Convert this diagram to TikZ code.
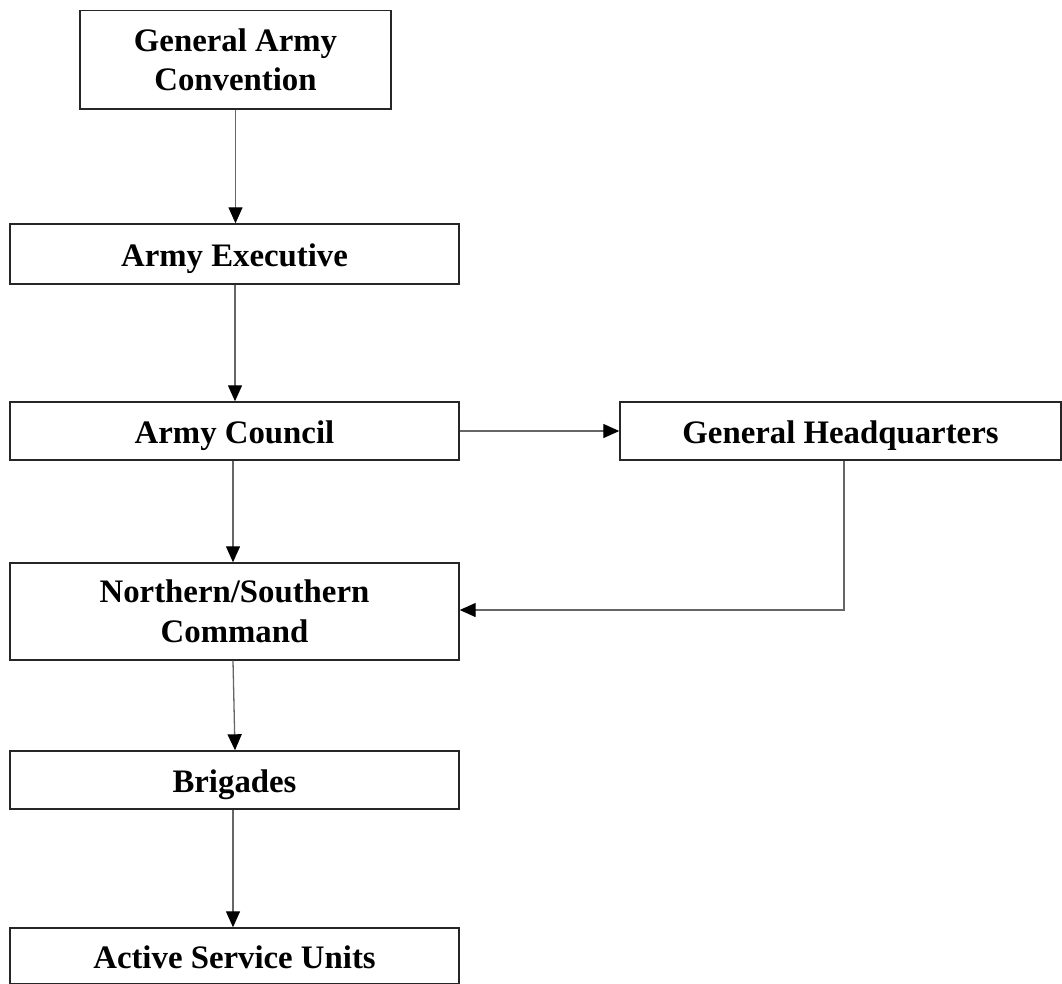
\documentclass[tikz,border=0pt]{standalone}
\usepackage{fontspec}
\setmainfont{Liberation Serif}
\usetikzlibrary{arrows.meta}
\begin{document}
\begin{tikzpicture}[x=1pt,y=-1pt,
  box/.style={draw=black!85,line width=1.4pt,inner sep=0pt,align=center,
    font=\fontsize{32.8}{39.5}\selectfont\bfseries},
  oneline/.style={box,text height=24.5pt,text depth=0pt},
  conn/.style={draw=black!60,line width=1.3pt,-{Triangle[length=16pt,width=14pt,black]}}]
\useasboundingbox (0,0) rectangle (1062,983);
\clip (0,0) rectangle (1062,983);
\node[box,minimum width=311pt,minimum height=98.5pt] (gac) at (235.5,59.75) {General Army\\Convention};
\node[oneline,minimum width=449pt,minimum height=60pt] (ae) at (234.5,254) {Army Executive};
\node[oneline,minimum width=449pt,minimum height=58pt] (ac) at (234.5,431) {Army Council};
\node[oneline,minimum width=441pt,minimum height=58pt] (ghq) at (840.5,431) {General Headquarters};
\node[box,minimum width=449pt,minimum height=97pt] (nsc) at (234.5,611.5) {Northern/Southern\\Command};
\node[oneline,minimum width=449pt,minimum height=58pt] (br) at (234.5,780) {Brigades};
\node[oneline,minimum width=449pt,minimum height=56pt] (asu) at (234.5,956) {Active Service Units};
\coordinate (bend) at (844,610);
\draw[conn] (gac.south) -- (ae.north -| gac.south);
\draw[conn] ([xshift=0.5pt]ae.south) -- ([xshift=0.5pt]ac.north);
\draw[conn] ([xshift=-1.5pt]ac.south) -- ([xshift=-1.5pt]nsc.north);
\draw[conn] (ac.east) -- (ghq.west);
\draw[conn] (ghq.south -| bend) -- (bend) -- (nsc.east |- bend);
\draw[conn] ([xshift=-1.5pt]nsc.south) -- ([xshift=0.5pt]br.north);
\draw[conn] ([xshift=-1.5pt]br.south) -- ([xshift=-1.5pt]asu.north);
\end{tikzpicture}
\end{document}
